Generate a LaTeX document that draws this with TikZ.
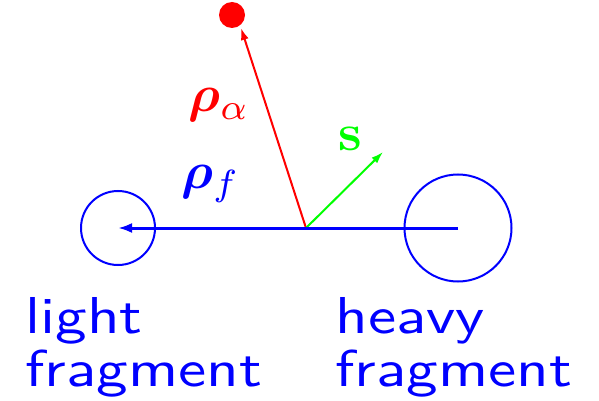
\documentclass[tikz,border=0pt]{standalone}
\usepackage{graphicx}
\usepackage{bm}
\usetikzlibrary{arrows.meta}
\newcommand\capbox[2]{\scalebox{3.163}[2.594]{\vbox{\fontsize{10}{10.22}\selectfont\sffamily\hbox{#1}\hbox{#2}}}}
\begin{document}
\begin{tikzpicture}[x=0.5pt,y=-0.5pt,
  frag/.style={draw=blue, line width=1pt, circle, inner sep=0pt},
  lbl/.style={inner sep=0pt, anchor=base west},
  caption/.style={inner sep=0pt, anchor=north west, text=blue},
  vec/.style={line width=1pt, -{Latex[length=6pt,width=4pt]}}]
\useasboundingbox (0,0) rectangle (599,401);
\coordinate (O) at (306,228);
\node[frag, minimum size=37pt] (light) at (118,228) {};
\node[frag, minimum size=53.5pt] (heavy) at (458,228) {};
\node[circle, fill=red, inner sep=0pt, minimum size=13pt] (alpha) at (232,15) {};
\coordinate (atip) at (241,28);
\coordinate (stip) at (383,152);
\draw[vec, red] (O) -- (atip);
\draw[vec, green] (O) -- (stip);
\draw[blue, line width=1.5pt, -{Latex[length=7pt,width=5pt]}] (heavy.center) -- (light.center);
\node[lbl, text=red] (ra) at (188,112) {\scalebox{2.6}{$\bm{\rho}_{\scriptstyle\alpha}$}};
\node[lbl, text=blue] (rf) at (181,188) {\scalebox{2.6}{$\bm{\rho}_f$}};
\node[lbl, text=green] (s) at (338,150) {\scalebox{2.6}{$\mathbf{s}$}};
\node[caption] (lightlbl) at (25,297) {\capbox{light}{fragment}};
\node[caption] (heavylbl) at (335,297) {\capbox{heavy}{fragment}};
\end{tikzpicture}
\end{document}
